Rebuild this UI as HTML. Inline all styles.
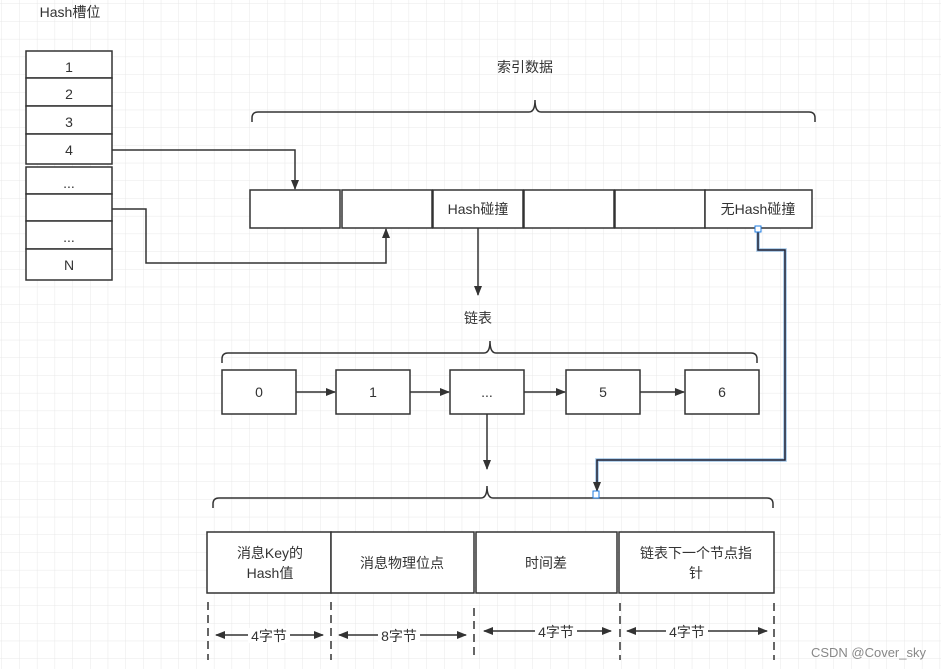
<!DOCTYPE html>
<html><head><meta charset="utf-8"><style>
html,body{margin:0;padding:0;background:#fff}
svg{display:block}
text{font-family:"Liberation Sans","Noto Sans CJK SC",sans-serif;font-size:14px;fill:#333}
</style></head><body>
<svg width="941" height="669" viewBox="0 0 941 669" xmlns="http://www.w3.org/2000/svg">
<defs>
<pattern id="g" x="2" y="4" width="17.7" height="17.7" patternUnits="userSpaceOnUse">
<path d="M17.7 0V17.7M0 17.7H17.7" stroke="#e8e8e8" stroke-width="1" fill="none"/>
</pattern>
<marker id="a" markerWidth="10" markerHeight="10" refX="9" refY="5" orient="auto" markerUnits="userSpaceOnUse"><path d="M0,1 L10,5 L0,9 Z" fill="#333"/></marker>
<marker id="a2" markerWidth="10" markerHeight="10" refX="1" refY="5" orient="auto" markerUnits="userSpaceOnUse"><path d="M10,1 L0,5 L10,9 Z" fill="#333"/></marker>
</defs>
<rect width="941" height="669" fill="url(#g)"/>
<g stroke="#333" stroke-width="1.5" fill="#fff">
<rect x="26" y="51" width="86" height="27"/><rect x="26" y="78" width="86" height="28"/>
<rect x="26" y="106" width="86" height="28"/><rect x="26" y="134" width="86" height="30"/>
<rect x="26" y="167" width="86" height="27"/><rect x="26" y="194" width="86" height="27"/>
<rect x="26" y="221" width="86" height="28"/><rect x="26" y="249" width="86" height="31"/>
<rect x="250" y="190" width="90" height="38"/><rect x="342" y="190" width="90" height="38"/>
<rect x="433" y="190" width="90" height="38"/><rect x="524" y="190" width="90" height="38"/>
<rect x="615" y="190" width="90" height="38"/><rect x="705" y="190" width="107" height="38"/>
<rect x="222" y="370" width="74" height="44"/><rect x="336" y="370" width="74" height="44"/>
<rect x="450" y="370" width="74" height="44"/><rect x="566" y="370" width="74" height="44"/>
<rect x="685" y="370" width="74" height="44"/>
<rect x="207" y="532" width="124" height="61"/><rect x="331" y="532" width="143" height="61"/>
<rect x="476" y="532" width="141" height="61"/><rect x="619" y="532" width="155" height="61"/>
</g>
<g stroke="#333" stroke-width="1.5" fill="none">
<path d="M252 122 v-4 q0-6 6-6 H529 q6 0 6-12 q0 12 6 12 H809 q6 0 6 6 v4"/>
<path d="M222 363 v-4 q0-6 6-6 H484 q6 0 6-12 q0 12 6 12 H751 q6 0 6 6 v4"/>
<path d="M213 508 v-4 q0-6 6-6 H481 q6 0 6-12 q0 12 6 12 H767 q6 0 6 6 v4"/>
<path d="M112 150 H295 V189" marker-end="url(#a)"/>
<path d="M112 209 H146 V263 H386 V229" marker-end="url(#a)"/>
<path d="M478 228 V295" marker-end="url(#a)"/>
<path d="M296 392 H335" marker-end="url(#a)"/>
<path d="M410 392 H449" marker-end="url(#a)"/>
<path d="M524 392 H565" marker-end="url(#a)"/>
<path d="M640 392 H684" marker-end="url(#a)"/>
<path d="M487 414 V469" marker-end="url(#a)"/>
<path d="M597 480 V491" marker-end="url(#a)"/>
<g stroke-dasharray="8,5"><path d="M208 602V660M331 602V660M474 608V660M620 603V660M774 603V660"/></g>
<path d="M216 635 H323" marker-start="url(#a2)" marker-end="url(#a)"/>
<path d="M339 635 H466" marker-start="url(#a2)" marker-end="url(#a)"/>
<path d="M484 631 H611" marker-start="url(#a2)" marker-end="url(#a)"/>
<path d="M627 631 H767" marker-start="url(#a2)" marker-end="url(#a)"/>
</g>
<path d="M758 229 V250 H785 V460 H597 V482" stroke="#5b9bd5" stroke-width="3.5" fill="none" opacity=".6"/>
<path d="M758 229 V250 H785 V460 H597 V482" stroke="#223" stroke-width="1.5" fill="none"/>
<rect x="755" y="226" width="6" height="6" fill="#fff" stroke="#1e7be0"/>
<rect x="593" y="491" width="6" height="7" fill="#fff" stroke="#1e7be0"/>
<g text-anchor="middle">
<text x="70" y="17">Hash槽位</text>
<text x="69" y="72">1</text><text x="69" y="99">2</text><text x="69" y="127">3</text><text x="69" y="155">4</text>
<text x="69" y="188">...</text><text x="69" y="242">...</text><text x="69" y="270">N</text>
<text x="525" y="72">索引数据</text>
<text x="478" y="214">Hash碰撞</text><text x="758" y="214">无Hash碰撞</text>
<text x="478" y="323">链表</text>
<text x="259" y="397">0</text><text x="373" y="397">1</text><text x="487" y="397">...</text>
<text x="603" y="397">5</text><text x="722" y="397">6</text>
<text x="270" y="558">消息Key的</text><text x="270" y="578">Hash值</text>
<text x="402" y="568">消息物理位点</text>
<text x="546" y="568">时间差</text>
<text x="696" y="558">链表下一个节点指</text><text x="696" y="578">针</text>
</g>
<g text-anchor="middle">
<rect x="248" y="628" width="42" height="15" fill="#fff"/><text x="269" y="641">4字节</text>
<rect x="378" y="628" width="42" height="15" fill="#fff"/><text x="399" y="641">8字节</text>
<rect x="535" y="624" width="42" height="15" fill="#fff"/><text x="556" y="637">4字节</text>
<rect x="666" y="624" width="42" height="15" fill="#fff"/><text x="687" y="637">4字节</text>
</g>
<text x="926" y="657" text-anchor="end" style="font-size:13px;fill:#888">CSDN @Cover_sky</text>
</svg>
</body></html>
